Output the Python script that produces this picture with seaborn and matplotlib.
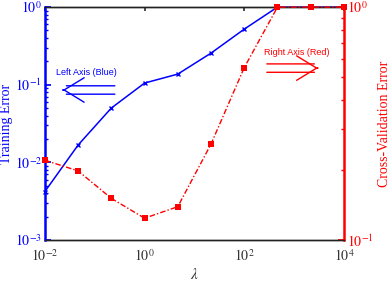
import numpy as np
import pandas as pd
import matplotlib
matplotlib.use("Agg")
import matplotlib.pyplot as plt
import matplotlib.ticker as mticker
import seaborn as sns

# values
lam = [0.01, 0.0464, 0.215, 1.0, 4.64, 21.5, 100.0, 464.0, 2154.0, 10000.0]
train_err = [0.0042, 0.0167, 0.050, 0.105, 0.137, 0.255, 0.52, 1.0, 1.0, 1.0]
cv_err = [0.22, 0.198, 0.151, 0.124, 0.139, 0.258, 0.55, 1.0, 1.0, 1.0]

df = pd.DataFrame({"lam": lam, "train": train_err, "cv": cv_err})

sns.set_theme(style="white")
plt.rcParams["font.family"] = ["Liberation Serif", "DejaVu Serif"]
plt.rcParams["mathtext.fontset"] = "stix"

blue = "#0000ff"
red = "#ff0000"

fig, ax = plt.subplots(figsize=(3.9, 2.83), dpi=100)
fig.subplots_adjust(left=0.115, right=0.882, top=0.975, bottom=0.152)
ax2 = ax.twinx()

sns.lineplot(data=df, x="lam", y="train", ax=ax, color=blue, lw=1.1,
             marker="x", markersize=3.5, markeredgewidth=1.0, markeredgecolor=blue, zorder=2)
ax.lines[-1].set_clip_on(False)
sns.lineplot(data=df, x="lam", y="cv", ax=ax2, color=red, lw=1.0,
             linestyle=(0, (4, 1.5, 1, 1.5)), marker="s", markersize=4, markeredgewidth=0, zorder=3)
ax2.lines[-1].set_clip_on(False)

ax.set_xscale("log")
ax.set_yscale("log")
ax2.set_yscale("log")
ax.set_xlim(1e-2, 1e4)
ax.set_ylim(1e-3, 1e0)
ax2.set_ylim(1e-1, 1e0)

ax.set_xticks([1e-2, 1e0, 1e2, 1e4])
ax.xaxis.set_minor_locator(mticker.NullLocator())
ax.set_xticklabels([r"$10^{-2}$", r"$10^{0}$", r"$10^{2}$", r"$10^{4}$"])
ax.set_yticks([1e-3, 1e-2, 1e-1, 1e0])
ax.set_yticklabels([r"$10^{-3}$", r"$10^{-2}$", r"$10^{-1}$", r"$10^{0}$"])
ax.yaxis.set_minor_locator(mticker.LogLocator(base=10, subs=np.arange(2, 10)))
ax.yaxis.set_minor_formatter(mticker.NullFormatter())
ax2.set_yticks([1e-1, 1e0])
ax2.set_yticklabels([r"$10^{-1}$", r"$10^{0}$"])
ax2.yaxis.set_minor_locator(mticker.LogLocator(base=10, subs=np.arange(2, 10)))
ax2.yaxis.set_minor_formatter(mticker.NullFormatter())

ax.tick_params(axis="x", which="major", direction="in", length=3, top=True,
               labelsize=10, colors="#333333", pad=6)
ax.tick_params(axis="y", which="both", direction="in", colors=blue, labelsize=10, left=True, pad=2)
ax.tick_params(axis="y", which="major", length=4)
ax.tick_params(axis="y", which="minor", length=2)
ax2.tick_params(axis="y", which="both", direction="in", colors=red, labelsize=10, right=True, pad=2)
ax2.tick_params(axis="y", which="major", length=4)
ax2.tick_params(axis="y", which="minor", length=2)

for a in (ax, ax2):
    for s in a.spines.values():
        s.set_color("#222222")
        s.set_linewidth(1.0)
ax.spines["left"].set_color(blue)
ax.spines["left"].set_linewidth(1.8)
ax2.spines["left"].set_visible(False)
ax2.spines["right"].set_color(red)
ax2.spines["right"].set_linewidth(1.8)
ax.spines["right"].set_visible(False)

ax.set_xlabel(r"$\lambda$", fontsize=11, color="#333333", labelpad=2)
ax.set_ylabel("Training Error", fontsize=10, color=blue, labelpad=1)
ax2.set_ylabel("Cross-Validation Error", fontsize=10, color=red, labelpad=3)


def double_arrow(x0, x1, y, color):
    # two parallel shaft lines plus an open head at x1
    for dy in (-0.018, 0.018):
        ax.annotate("", xy=(x1 + (0.012 if x1 < x0 else -0.012), y + dy), xytext=(x0, y + dy),
                    xycoords="axes fraction",
                    arrowprops=dict(arrowstyle="-", color=color, lw=1.0,
                                    shrinkA=0, shrinkB=0))
    step = 0.001 if x1 < x0 else -0.001
    ax.annotate("", xy=(x1, y), xytext=(x1 + step, y), xycoords="axes fraction",
                arrowprops=dict(arrowstyle="->,head_length=0.9,head_width=0.55",
                                mutation_scale=16, color=color, lw=1.0,
                                shrinkA=0, shrinkB=0))


sans = ["Liberation Sans", "DejaVu Sans"]
ax.text(0.140, 0.721, "Left Axis (Blue)", transform=ax.transAxes, ha="center",
        va="center", fontsize=6.5, color=blue, family=sans)
double_arrow(0.234, 0.060, 0.644, blue)
ax.text(0.843, 0.803, "Right Axis (Red)", transform=ax.transAxes, ha="center",
        va="center", fontsize=6.5, color=red, family=sans)
double_arrow(0.742, 0.913, 0.738, red)

fig.savefig("out.png", dpi=100)
